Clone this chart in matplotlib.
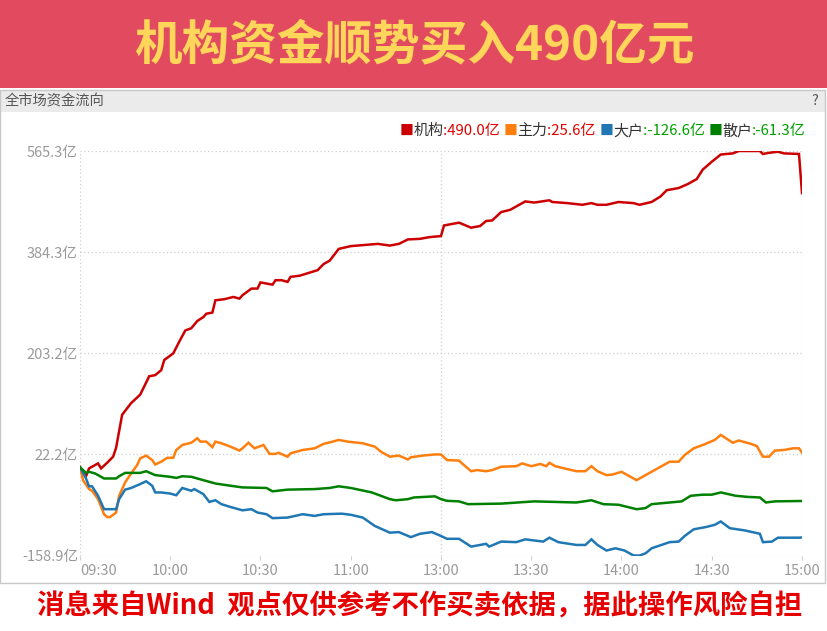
import matplotlib
matplotlib.use("Agg")
import matplotlib.pyplot as plt
from matplotlib.patches import Rectangle
from matplotlib.offsetbox import TextArea, HPacker, AnchoredOffsetbox

plt.rcParams['font.family'] = ['Noto Sans CJK SC', 'DejaVu Sans']

# ---------------- data ----------------
title = "机构资金顺势买入490亿元"
panel_title = "全市场资金流向"
footer = "消息来自Wind  观点仅供参考不作买卖依据，据此操作风险自担"

series_names = ["机构", "主力", "大户", "散户"]
series_last = ["490.0", "25.6", "-126.6", "-61.3"]

x_tick_pos = [0, 30, 60, 90, 120, 150, 180, 210, 240]
x_tick_labels = ["09:30", "10:00", "10:30", "11:00", "13:00", "13:30", "14:00", "14:30", "15:00"]
y_ticks = [-158.9, 22.2, 203.2, 384.3, 565.3]

# minutes since 09:30 on a trading-time axis (lunch break removed)
inst_t = [0, 2, 3, 5, 6, 7, 9, 11, 12, 14, 15, 17, 20, 23, 25, 27, 28, 31, 33, 35, 37, 39, 41, 42, 44, 45,
          48, 51, 53, 54, 57, 59, 60, 64, 65, 67, 69, 70, 73, 76, 79, 81, 83, 86, 90, 99, 103, 106, 109, 113,
          116, 120, 121, 126, 130, 133, 135, 137, 140, 143, 146, 148, 151, 156, 157, 162, 167, 170, 172, 175,
          179, 184, 186, 190, 193, 195, 199, 202, 205, 207, 210, 213, 217, 219, 226, 227, 229, 232, 234, 239, 240]
inst_v = [-1, -17, -3, 3, 6, -3, 7, 18, 34, 93, 100, 114, 129, 162, 164, 173, 191, 203, 224, 244, 248, 261,
          268, 274, 276, 298, 300, 304, 301, 307, 319, 319, 330, 326, 334, 334, 331, 340, 342, 347, 352, 363,
          369, 390, 395, 399, 396, 399, 407, 408, 411, 413, 432, 437, 428, 431, 440, 441, 456, 460, 469, 475,
          473, 477, 474, 472, 469, 472, 469, 469, 474, 472, 469, 474, 484, 495, 499, 506, 515, 532, 546, 559,
          561, 565.3, 565.3, 560, 562, 564, 561, 560, 490.0]

main_t = [0, 1, 3, 4, 6, 8, 9, 10, 12, 13, 15, 17, 19, 20, 22, 24, 25, 27, 29, 31, 32, 34, 37, 39, 40, 42,
          44, 45, 47, 50, 53, 54, 56, 58, 59, 61, 63, 65, 66, 69, 70, 74, 78, 81, 84, 86, 89, 94, 98, 100, 103,
          106, 109, 110, 114, 118, 120, 122, 126, 127, 130, 132, 135, 137, 140, 145, 147, 150, 153, 155, 156,
          158, 161, 165, 168, 170, 172, 175, 177, 180, 182, 185, 187, 189, 192, 196, 199, 201, 204, 208, 211,
          213, 217, 219, 223, 225, 227, 229, 231, 234, 237, 239, 240]
main_v = [0, -24, -40, -43, -58, -85, -90, -90, -82, -52, -28, -12, 3, 15, 20, 12, 4, 9, 16, 16, 30, 39, 43,
          51, 45, 45, 35, 45, 42, 36, 29, 33, 43, 33, 35, 39, 23, 23, 25, 18, 24, 30, 33, 41, 45, 48, 45, 42,
          36, 27, 18, 20, 13, 17, 20, 22, 22, 12, 11, 6, -8, -6, -8, -6, 0, 1, 6, 1, 5, 1, 7, 1, -3, -8, -8, 1,
          -8, -15, -14, -9, -15, -24, -18, -12, -3, 9, 9, 21, 33, 41, 48, 57, 43, 47, 41, 37, 18, 18, 29, 30,
          33, 33, 25.6]

big_t = [0, 2, 3, 4, 6, 8, 12, 13, 15, 17, 20, 22, 24, 25, 27, 30, 32, 34, 37, 38, 41, 43, 45, 47, 50, 54,
         57, 59, 62, 64, 69, 74, 78, 81, 87, 90, 94, 98, 103, 106, 110, 113, 117, 120, 122, 126, 130, 135, 136,
         140, 145, 148, 154, 156, 159, 165, 168, 170, 172, 175, 178, 181, 184, 186, 188, 190, 196, 199, 201,
         204, 208, 211, 213, 216, 221, 226, 227, 230, 232, 239, 240]
big_v = [-1, -21, -35, -35, -52, -76, -76, -58, -41, -38, -31, -26, -34, -46, -46, -48, -51, -38, -43, -40,
         -49, -63, -60, -67, -72, -78, -76, -82, -85, -92, -91, -85, -88, -85, -84, -86, -91, -106, -118, -117,
         -126, -120, -117, -124, -129, -129, -143, -138, -143, -134, -135, -130, -134, -127, -135, -140, -140,
         -130, -140, -150, -146, -150, -158.9, -158.9, -155, -146, -135, -134, -124, -112, -108, -104, -98,
         -110, -114, -120, -135, -134, -127, -127, -126.6]

retail_t = [0, 2, 3, 5, 8, 12, 13, 15, 20, 22, 25, 30, 32, 34, 37, 41, 45, 50, 54, 62, 64, 69, 78, 83, 86,
            90, 97, 103, 105, 109, 111, 118, 120, 122, 126, 129, 140, 151, 165, 170, 174, 179, 185, 188, 190,
            200, 203, 207, 210, 213, 218, 222, 226, 228, 231, 240]
retail_v = [-1, -11, -9, -12, -21, -21, -17, -11, -11, -8, -15, -18, -20, -17, -18, -24, -30, -34, -37, -38,
            -44, -41, -40, -38, -35, -38, -46, -58, -60, -58, -55, -53, -58, -61, -62, -67, -66, -62, -64, -60,
            -67, -68, -76, -74, -67, -62, -52, -50, -50, -46, -52, -54, -55, -64, -62, -61.3]

colors = ["#cc0000", "#ff7f0e", "#1f77b4", "#008000"]
value_colors = ["#e00000", "#e00000", "#00a000", "#00a000"]

# ---------------- figure ----------------
W, H = 828, 631
fig = plt.figure(figsize=(W / 100, H / 100), dpi=100)
fig.patch.set_facecolor("white")

def fx(px):
    return px / W

def fy(py):
    return 1 - py / H

# banner
fig.add_artist(Rectangle((0, fy(88)), 1, 88 / H, transform=fig.transFigure,
                         facecolor="#e24b5f", edgecolor="none", zorder=0))
fig.text(fx(414), fy(45), title, ha="center", va="center", fontsize=34.3,
         fontweight="bold", color="#ffd55a")

# panel header
fig.add_artist(Rectangle((0, fy(112)), fx(825), (112 - 90) / H, transform=fig.transFigure,
                         facecolor="#ebebeb", edgecolor="none", zorder=0))
fig.add_artist(Rectangle((fx(0.5), fy(583)), fx(824.5), (583 - 90) / H, transform=fig.transFigure,
                         facecolor="none", edgecolor="#c8c8c8", lw=1.0, zorder=1))
fig.text(fx(5), fy(101), panel_title, ha="left", va="center", fontsize=10.3, color="#555555")
fig.text(fx(815), fy(101), "?", ha="center", va="center", fontsize=10.3, color="#555555")

# axes
ax_left, ax_right, ax_top, ax_bottom = 80, 802, 151, 555.5
ax = fig.add_axes([fx(ax_left), fy(ax_bottom), fx(ax_right - ax_left), (ax_bottom - ax_top) / H])
ax.set_facecolor("none")

for t, v, c in zip([inst_t, main_t, big_t, retail_t], [inst_v, main_v, big_v, retail_v], colors):
    ax.plot(t, v, color=c, lw=1.8, solid_joinstyle="miter", zorder=3)

ax.set_xlim(0, 240)
ax.set_ylim(y_ticks[0], y_ticks[-1])
ax.set_yticks(y_ticks)
ax.set_yticklabels([f"{v:.1f}亿" for v in y_ticks])
ax.set_xticks(x_tick_pos)
ax.set_xticklabels(x_tick_labels)
ax.get_xticklabels()[0].set_ha("left")

grid_style = dict(color="#cfcfcf", lw=0.9, ls=(0, (1, 2)), zorder=1)
for yv in y_ticks:
    ax.axhline(yv, **grid_style)
for xv in [0, 120, 240]:
    ax.axvline(xv, **grid_style)

for s in ax.spines.values():
    s.set_visible(False)
ax.tick_params(axis="y", length=0, pad=1.5, labelsize=10.5, labelcolor="#9a9a9a")
ax.tick_params(axis="x", length=3, width=0.8, color="#cfcfcf", pad=3, labelsize=10.5,
               labelcolor="#9a9a9a")

# legend (colored pieces)
children = []
for i, (name, val) in enumerate(zip(series_names, series_last)):
    children.append(TextArea("■", textprops=dict(color=colors[i], fontsize=10)))
    children.append(TextArea(name, textprops=dict(color="#333333", fontsize=10.8)))
    txt = ":" + val + "亿" + ("" if i == len(series_names) - 1 else " ")
    children.append(TextArea(txt, textprops=dict(color=value_colors[i], fontsize=10.8)))
pack = HPacker(children=children, align="center", pad=0, sep=0)
anch = AnchoredOffsetbox(loc="center right", child=pack, pad=0, borderpad=0, frameon=False,
                         bbox_to_anchor=(fx(806), fy(131)), bbox_transform=fig.transFigure)
fig.add_artist(anch)

# footer
fig.text(fx(420), fy(607), footer, ha="center", va="center", fontsize=19.7,
         fontweight="bold", color="#e60000")

fig.savefig("out.png", dpi=100)
